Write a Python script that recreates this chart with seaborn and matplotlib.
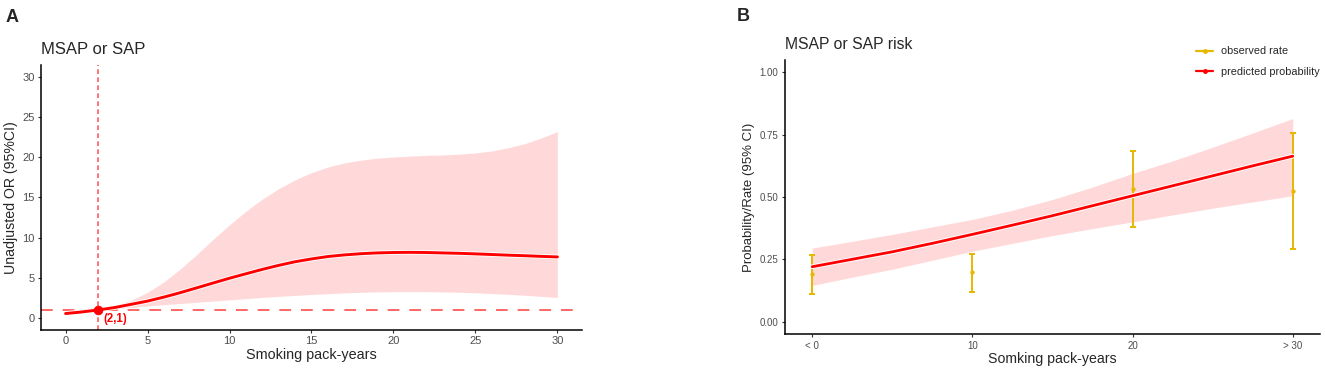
import numpy as np
import pandas as pd
import seaborn as sns
import matplotlib.pyplot as plt
import matplotlib.patheffects as pe
from matplotlib.lines import Line2D

# Panel A: restricted cubic spline, unadjusted OR
pack_years = list(range(0, 31))
or_fit = [0.55, 0.75, 1.0, 1.3, 1.7, 2.1, 2.6, 3.15, 3.75, 4.35, 4.95, 5.5, 6.05, 6.55, 7.0, 7.35,
          7.65, 7.85, 8.0, 8.1, 8.15, 8.17, 8.15, 8.1, 8.05, 7.98, 7.9, 7.82, 7.75, 7.67, 7.6]
or_upper = [0.6, 0.8, 1.0, 1.5, 2.2, 3.2, 4.5, 6.1, 7.9, 9.8, 11.6, 13.3, 14.8, 16.1, 17.2, 18.1,
            18.8, 19.3, 19.65, 19.9, 20.05, 20.15, 20.25, 20.3, 20.4, 20.55, 20.8, 21.2, 21.7, 22.4, 23.2]
or_lower = [0.5, 0.7, 1.0, 1.15, 1.33, 1.5, 1.65, 1.8, 1.95, 2.1, 2.25, 2.4, 2.55, 2.68, 2.8, 2.92,
            3.02, 3.12, 3.19, 3.24, 3.27, 3.28, 3.27, 3.24, 3.2, 3.13, 3.04, 2.94, 2.82, 2.69, 2.55]
ref_x, ref_y = 2, 1

# Panel B: predicted probability vs observed rate
pred_x = [0, 2.5, 5, 7.5, 10, 12.5, 15, 17.5, 20, 22.5, 25, 27.5, 30]
pred_fit = [0.22, 0.25, 0.28, 0.314, 0.35, 0.387, 0.425, 0.465, 0.505, 0.545, 0.585, 0.625, 0.664]
pred_upper = [0.295, 0.322, 0.35, 0.38, 0.41, 0.447, 0.49, 0.54, 0.595, 0.645, 0.70, 0.757, 0.815]
pred_lower = [0.145, 0.178, 0.21, 0.246, 0.282, 0.314, 0.345, 0.373, 0.40, 0.428, 0.455, 0.48, 0.505]

obs_x = [0, 10, 20, 30]
obs_rate = [0.19, 0.197, 0.532, 0.524]
obs_lower = [0.109, 0.118, 0.381, 0.291]
obs_upper = [0.269, 0.273, 0.685, 0.757]
obs_ticklabels = ["< 0", "10", "20", "> 30"]

sns.set_theme(style="ticks")
plt.rcParams["font.family"] = ["Liberation Sans", "DejaVu Sans"]

RED = "#FF0000"
GOLD = "#E7B800"
GREY = "#4D4D4D"

fig = plt.figure(figsize=(13.25, 3.71), dpi=100)
ax1 = fig.add_axes([0.03094, 0.11051, 0.40830, 0.71429])
ax2 = fig.add_axes([0.59245, 0.09973, 0.40377, 0.73854])

halo = [pe.Stroke(linewidth=3.4, foreground="white"), pe.Normal()]

# ---- Panel A
dfa = pd.DataFrame({"x": pack_years, "fit": or_fit, "lo": or_lower, "hi": or_upper})
ax1.fill_between(dfa["x"], dfa["lo"], dfa["hi"], color=RED, alpha=0.15, linewidth=0)
sns.lineplot(data=dfa, x="x", y="fit", ax=ax1, color=RED, linewidth=2.1, path_effects=halo, zorder=3)
ax1.axhline(ref_y, color="#FF5C5C", linewidth=1.3, dashes=(6.5, 5.5), zorder=2)
ax1.axvline(ref_x, color="#FF5C5C", linewidth=1.2, dashes=(2.8, 2.0), zorder=2)
sns.scatterplot(x=[ref_x], y=[ref_y], ax=ax1, color=RED, s=40, edgecolor=RED, zorder=4)
ax1.text(ref_x + 0.3, ref_y - 1.1, "(2,1)", color=RED, fontsize=8.3, fontweight="bold", va="center", ha="left")

ax1.set_xlim(-1.5, 31.5)
ax1.set_ylim(-1.5, 31.5)
ax1.set_xticks([0, 5, 10, 15, 20, 25, 30])
ax1.set_yticks([0, 5, 10, 15, 20, 25, 30])
ax1.set_xlabel("Smoking pack-years", fontsize=10.4, labelpad=1)
ax1.set_ylabel("Unadjusted OR (95%CI)", fontsize=10.2, labelpad=3)
ax1.set_title("MSAP or SAP", loc="left", fontsize=12, pad=8)

# ---- Panel B
dfb = pd.DataFrame({"x": pred_x, "fit": pred_fit, "lo": pred_lower, "hi": pred_upper})
dfo = pd.DataFrame({"x": obs_x, "rate": obs_rate, "lo": obs_lower, "hi": obs_upper})
ax2.fill_between(dfb["x"], dfb["lo"], dfb["hi"], color=RED, alpha=0.15, linewidth=0)
ax2.errorbar(dfo["x"], dfo["rate"], yerr=[dfo["rate"] - dfo["lo"], dfo["hi"] - dfo["rate"]],
             fmt="none", ecolor=GOLD, elinewidth=1.4, capsize=2.5, capthick=1.4, zorder=2)
sns.scatterplot(data=dfo, x="x", y="rate", ax=ax2, color=GOLD, s=8, edgecolor=GOLD, zorder=2.5)
sns.lineplot(data=dfb, x="x", y="fit", ax=ax2, color=RED, linewidth=2.0, path_effects=halo, zorder=3)

ax2.set_xlim(-1.7, 31.7)
ax2.set_ylim(-0.05, 1.05)
ax2.set_xticks(obs_x)
ax2.set_xticklabels(obs_ticklabels)
ax2.set_yticks([0, 0.25, 0.5, 0.75, 1.0])
ax2.set_yticklabels(["0.00", "0.25", "0.50", "0.75", "1.00"])
ax2.set_xlabel("Somking pack-years", fontsize=10.2, labelpad=1)
ax2.set_ylabel("Probability/Rate (95% CI)", fontsize=9.5, labelpad=3)
ax2.set_title("MSAP or SAP risk", loc="left", fontsize=11.3, pad=8)

handles = [Line2D([0], [0], color=GOLD, linewidth=1.6, marker="o", markersize=2.5),
           Line2D([0], [0], color=RED, linewidth=1.6, marker="o", markersize=2.5)]
ax2.legend(handles, ["observed rate", "predicted probability"], loc="upper left",
           bbox_to_anchor=(1196 / 1325, 1 - 46.5 / 371), bbox_transform=fig.transFigure,
           frameon=False, fontsize=7.8, handlelength=1.57, handletextpad=0.74, labelspacing=0.94,
           borderaxespad=0, borderpad=0)

for ax in (ax1, ax2):
    for side in ("top", "right"):
        ax.spines[side].set_visible(False)
    for side in ("left", "bottom"):
        ax.spines[side].set_linewidth(1.1)
        ax.spines[side].set_color("black")
    ax.tick_params(axis="both", length=2.5, width=0.8, color="#333333", labelcolor=GREY,
                   labelsize=8, pad=2)

ax2.tick_params(axis="both", labelsize=7, pad=2.5)

fig.text(6 / 1325, 1 - 9 / 371, "A", fontsize=13, fontweight="bold", va="top", ha="left")
fig.text(737 / 1325, 1 - 8 / 371, "B", fontsize=13, fontweight="bold", va="top", ha="left")

fig.savefig("out.png", dpi=100)
